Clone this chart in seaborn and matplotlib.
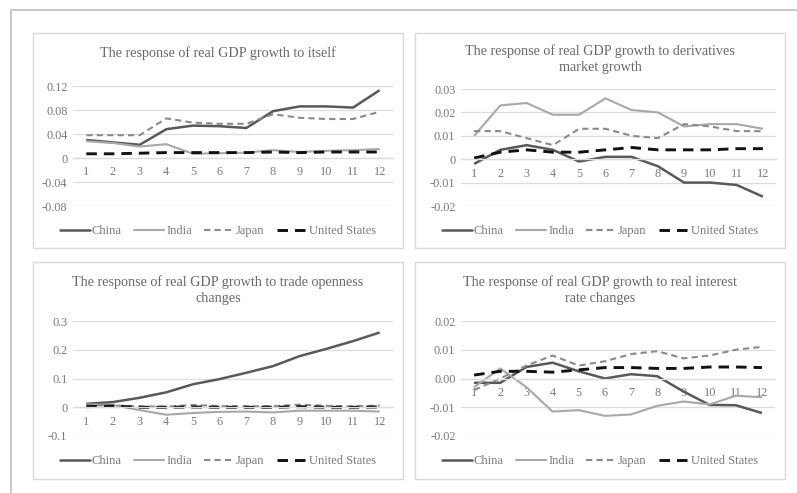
import matplotlib
matplotlib.use("Agg")
import matplotlib.pyplot as plt
from matplotlib.patches import Rectangle
from matplotlib.lines import Line2D
import numpy as np
import pandas as pd
import seaborn as sns

# ---- data -------------------------------------------------------------
periods = list(range(1, 13))
countries = ["China", "India", "Japan", "United States"]

# response of real GDP growth to itself
self_china = [0.030, 0.026, 0.022, 0.048, 0.054, 0.053, 0.050, 0.078, 0.086, 0.086, 0.084, 0.113]
self_india = [0.028, 0.025, 0.019, 0.023, 0.007, 0.008, 0.009, 0.013, 0.010, 0.012, 0.013, 0.015]
self_japan = [0.038, 0.038, 0.038, 0.066, 0.059, 0.057, 0.057, 0.073, 0.067, 0.065, 0.065, 0.077]
self_us = [0.007, 0.007, 0.008, 0.009, 0.009, 0.009, 0.009, 0.010, 0.009, 0.010, 0.010, 0.010]

# response to derivatives market growth
deriv_china = [-0.002, 0.004, 0.006, 0.004, -0.001, 0.001, 0.001, -0.003, -0.010, -0.010, -0.011, -0.016]
deriv_india = [0.010, 0.023, 0.024, 0.019, 0.019, 0.026, 0.021, 0.020, 0.014, 0.015, 0.015, 0.013]
deriv_japan = [0.012, 0.012, 0.009, 0.006, 0.013, 0.013, 0.010, 0.009, 0.015, 0.014, 0.012, 0.012]
deriv_us = [0.0005, 0.003, 0.004, 0.003, 0.003, 0.004, 0.005, 0.004, 0.004, 0.004, 0.0045, 0.0045]

# response to trade openness changes
trade_china = [0.012, 0.018, 0.033, 0.052, 0.080, 0.098, 0.120, 0.143, 0.178, 0.203, 0.230, 0.260]
trade_india = [0.010, 0.008, -0.010, -0.026, -0.020, -0.016, -0.015, -0.018, -0.012, -0.012, -0.012, -0.015]
trade_japan = [0.008, 0.006, 0.003, 0.002, 0.008, 0.004, 0.003, 0.004, 0.009, 0.005, 0.003, 0.006]
trade_us = [0.002, 0.004, 0.000, 0.000, 0.001, 0.000, 0.000, 0.000, 0.002, 0.000, 0.000, 0.001]

# response to real interest rate changes
rate_china = [-0.0015, -0.0015, 0.0040, 0.0055, 0.0025, 0.0000, 0.0015, 0.0008, -0.0045, -0.0092, -0.0093, -0.0120]
rate_india = [-0.0030, 0.0035, -0.0030, -0.0115, -0.0110, -0.0130, -0.0125, -0.0095, -0.0080, -0.0090, -0.0060, -0.0065]
rate_japan = [-0.0040, 0.0000, 0.0045, 0.0080, 0.0045, 0.0060, 0.0085, 0.0095, 0.0070, 0.0080, 0.0100, 0.0110]
rate_us = [0.0012, 0.0025, 0.0025, 0.0022, 0.0030, 0.0038, 0.0038, 0.0035, 0.0035, 0.0040, 0.0040, 0.0038]

titles = [
    "The response of real GDP growth to itself",
    "The response of real GDP growth to derivatives\nmarket growth",
    "The response of real GDP growth to trade openness\nchanges",
    "The response of real GDP growth to real interest\nrate changes",
]
yticks_self = [-0.08, -0.04, 0, 0.04, 0.08, 0.12]
ylabels_self = ["-0.08", "-0.04", "0", "0.04", "0.08", "0.12"]
yticks_deriv = [-0.02, -0.01, 0, 0.01, 0.02, 0.03]
ylabels_deriv = ["-0.02", "-0.01", "0", "0.01", "0.02", "0.03"]
yticks_trade = [-0.1, 0, 0.1, 0.2, 0.3]
ylabels_trade = ["-0.1", "0", "0.1", "0.2", "0.3"]
yticks_rate = [-0.02, -0.01, 0, 0.01, 0.02]
ylabels_rate = ["-0.02", "-0.01", "0.00", "0.01", "0.02"]

# ---- styling ------------------------------------------------------------
sns.set_theme(style="white")
plt.rcParams["font.family"] = ["Liberation Serif", "DejaVu Serif"]

W, H = 797, 493
fig = plt.figure(figsize=(W / 100, H / 100), dpi=100)
fig.patch.set_facecolor("white")

styles = {
    "China": dict(color="#595959", linewidth=1.8, linestyle="-"),
    "India": dict(color="#a8a8a8", linewidth=1.5, linestyle="-"),
    "Japan": dict(color="#8a8a8a", linewidth=1.5, linestyle=(0, (3, 2))),
    "United States": dict(color="#111111", linewidth=2.1, linestyle=(0, (3.6, 2.4))),
}
TEXT = "#7a7a7a"
TITLE = "#6a6a6a"
GRID = "#dcdcdc"
TICK_FS = 8.8
LEG_FS = 9.0
TITLE_FS = 10.2


def px_rect(x0, y0, x1, y1):
    """figure-fraction rectangle from pixel corners (origin top-left)"""
    return [x0 / W, 1 - y1 / H, (x1 - x0) / W, (y1 - y0) / H]


# outer frame
fig.add_artist(Line2D([11 / W, 11 / W], [0, 1 - 10 / H], transform=fig.transFigure,
                      color="#c9c9c9", linewidth=1.4))
fig.add_artist(Line2D([11 / W, 1], [1 - 10 / H, 1 - 10 / H], transform=fig.transFigure,
                      color="#c9c9c9", linewidth=1.4))

panels = [
    dict(box=(33, 33, 403, 248), area=(73, 86, 393, 206), title_y=53, leg_y=231,
         series=[self_china, self_india, self_japan, self_us],
         ylim=(-0.08, 0.12), yt=yticks_self, yl=ylabels_self),
    dict(box=(415, 33, 785, 248), area=(461, 89, 776, 206), title_y=59, leg_y=231,
         series=[deriv_china, deriv_india, deriv_japan, deriv_us],
         ylim=(-0.02, 0.03), yt=yticks_deriv, yl=ylabels_deriv),
    dict(box=(33, 262, 403, 479), area=(73, 321, 393, 436), title_y=290, leg_y=461,
         series=[trade_china, trade_india, trade_japan, trade_us],
         ylim=(-0.1, 0.3), yt=yticks_trade, yl=ylabels_trade),
    dict(box=(415, 262, 785, 479), area=(461, 321, 775, 436), title_y=290, leg_y=461,
         series=[rate_china, rate_india, rate_japan, rate_us],
         ylim=(-0.02, 0.02), yt=yticks_rate, yl=ylabels_rate),
]

for p, title in zip(panels, titles):
    bx0, by0, bx1, by1 = p["box"]
    fig.add_artist(Rectangle((bx0 / W, 1 - by1 / H), (bx1 - bx0) / W, (by1 - by0) / H,
                             transform=fig.transFigure, fill=False,
                             edgecolor="#d9d9d9", linewidth=1.0))

    ax = fig.add_axes(px_rect(*p["area"]))
    ax.set_facecolor("none")

    frame = pd.DataFrame({"period": periods * 4,
                          "value": np.concatenate(p["series"]),
                          "country": np.repeat(countries, len(periods))})
    for c in countries:
        sub = frame[frame["country"] == c]
        sns.lineplot(data=sub, x="period", y="value", ax=ax, legend=False,
                     solid_capstyle="butt", dash_capstyle="butt", **styles[c])

    ax.set_xlim(0.5, 12.5)
    ax.set_ylim(*p["ylim"])
    ax.set_yticks(p["yt"])
    ax.set_yticklabels(p["yl"])
    ax.set_xticks(periods)
    ax.set_xticklabels([str(i) for i in periods])
    ax.set_xlabel("")
    ax.set_ylabel("")

    for s in ["top", "left", "right"]:
        ax.spines[s].set_visible(False)
    ax.spines["bottom"].set_position(("data", 0))
    ax.spines["bottom"].set_color(GRID)
    ax.spines["bottom"].set_linewidth(0.9)
    ax.grid(axis="y", color=GRID, linewidth=0.9)
    ax.grid(axis="x", visible=False)
    ax.set_axisbelow(True)
    ax.tick_params(axis="both", length=0, labelsize=TICK_FS, labelcolor=TEXT)
    ax.tick_params(axis="x", pad=6)
    ax.tick_params(axis="y", pad=4)

    cx = (bx0 + bx1) / 2
    fig.text(cx / W, 1 - p["title_y"] / H, title, ha="center", va="center",
             fontsize=TITLE_FS, color=TITLE, linespacing=1.3)

    handles = [Line2D([], [], **styles[c]) for c in countries]
    fig.legend(handles, countries, loc="center", bbox_to_anchor=(cx / W, 1 - p["leg_y"] / H),
               ncol=4, frameon=False, fontsize=LEG_FS, labelcolor=TEXT,
               handlelength=2.4, handletextpad=0.15, columnspacing=1.0)

fig.savefig("out.png", dpi=100, facecolor="white")
